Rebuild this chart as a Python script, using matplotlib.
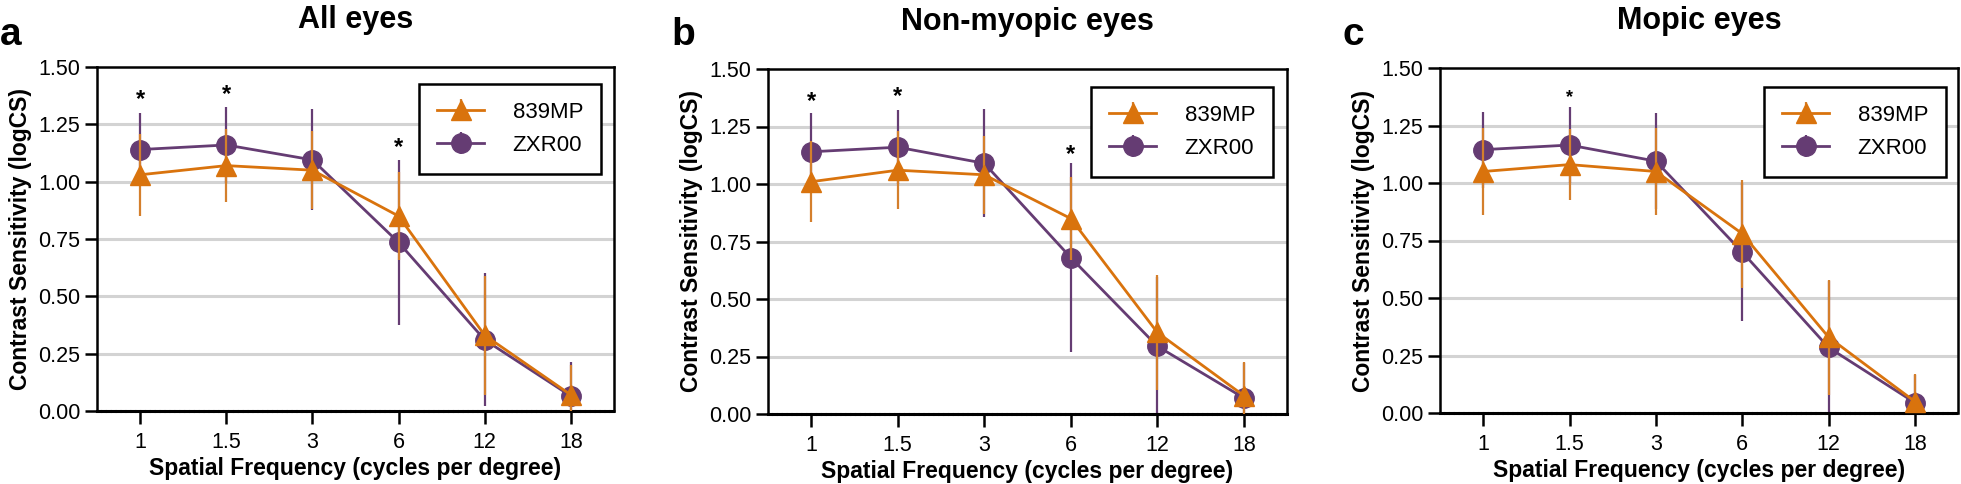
import numpy as np
import matplotlib
matplotlib.use('Agg')
import matplotlib.pyplot as plt

plt.rcParams['font.family'] = ['Liberation Sans', 'DejaVu Sans']

freq_labels = ['1', '1.5', '3', '6', '12', '18']
titles = ['All eyes', 'Non-myopic eyes', 'Mopic eyes']
letters = ['a', 'b', 'c']

# 839MP (orange, triangles)
mp_mean = [
    [1.03, 1.07, 1.05, 0.85, 0.33, 0.07],
    [1.01, 1.06, 1.04, 0.85, 0.355, 0.08],
    [1.05, 1.08, 1.05, 0.78, 0.33, 0.05],
]
mp_sd = [
    [0.18, 0.16, 0.17, 0.19, 0.26, 0.13],
    [0.175, 0.17, 0.17, 0.18, 0.25, 0.145],
    [0.19, 0.155, 0.19, 0.235, 0.25, 0.12],
]
# ZXR00 (purple, circles)
zx_mean = [
    [1.14, 1.16, 1.095, 0.735, 0.31, 0.065],
    [1.14, 1.16, 1.09, 0.68, 0.295, 0.07],
    [1.145, 1.165, 1.095, 0.70, 0.285, 0.045],
]
zx_sd = [
    [0.16, 0.165, 0.22, 0.36, 0.29, 0.15],
    [0.17, 0.16, 0.235, 0.41, 0.30, 0.15],
    [0.165, 0.165, 0.21, 0.30, 0.29, 0.12],
]
# significance stars: (index, y)
stars = [
    [(0, 1.36), (1, 1.38), (3, 1.15)],
    [(0, 1.36), (1, 1.38), (3, 1.13)],
    [(1, 1.37)],
]
star_size = [17, 17, 13]

orange = '#d9730d'
orange_err = '#d47f2c'
purple = '#653c73'

W, H = 1961, 484
fig = plt.figure(figsize=(W / 100, H / 100), dpi=100)

# axes boxes in pixels: left, top, right, bottom
boxes = [(97, 67, 614, 411), (768, 69, 1287, 414), (1440, 68, 1958, 413)]
# legend upper-right corners in pixels
leg_corner = [(601, 84), (1273, 87), (1946, 87)]

x = np.arange(len(freq_labels))
for k in range(3):
    l, t, r, b = boxes[k]
    ax = fig.add_axes([l / W, 1 - b / H, (r - l) / W, (b - t) / H])

    for yy in [0.25, 0.5, 0.75, 1.0, 1.25]:
        ax.axhline(yy, color='#d3d3d3', lw=2.2, zorder=0)

    ax.errorbar(x, zx_mean[k], yerr=zx_sd[k], color=purple, ecolor=purple,
                elinewidth=1.6, capsize=0, lw=2, marker='o', ms=14,
                label='ZXR00', zorder=2)
    ax.errorbar(x, mp_mean[k], yerr=mp_sd[k], color=orange, ecolor=orange_err,
                elinewidth=1.6, capsize=0, lw=2, marker='^', ms=15,
                label='839MP', zorder=3)

    for i, yy in stars[k]:
        ax.text(x[i], yy, '*', ha='center', va='center',
                fontsize=star_size[k], fontweight='bold')

    ax.set_xlim(-0.5, 5.5)
    ax.set_ylim(0, 1.5)
    ax.set_xticks(x)
    ax.set_xticklabels(freq_labels)
    ax.set_yticks([0, 0.25, 0.5, 0.75, 1.0, 1.25, 1.5])
    ax.set_yticklabels(['0.00', '0.25', '0.50', '0.75', '1.00', '1.25', '1.50'])
    ax.tick_params(direction='out', length=9, width=1.8, labelsize=15.5,
                   pad=3)
    ax.tick_params(axis='x', pad=6)
    for s in ['left', 'top', 'right']:
        ax.spines[s].set_linewidth(1.8)
    ax.spines['bottom'].set_linewidth(2.2)
    ax.spines['bottom'].set_linestyle((0, (1, 0.6)))

    ax.set_xlabel('Spatial Frequency (cycles per degree)', fontsize=16.5,
                  fontweight='bold', labelpad=3)
    ax.set_ylabel('Contrast Sensitivity (logCS)', fontsize=16.5,
                  fontweight='bold', labelpad=4)
    ax.set_title(titles[k], fontsize=22, fontweight='bold', pad=28)

    h, lb = ax.get_legend_handles_labels()
    cx, cy = leg_corner[k]
    leg = ax.legend(h[::-1], lb[::-1], loc='upper right',
                    bbox_to_anchor=(cx / W, 1 - cy / H),
                    bbox_transform=fig.transFigure,
                    fontsize=16, frameon=True, fancybox=False, framealpha=1,
                    edgecolor='black', handlelength=2.1, handletextpad=1.3,
                    borderpad=0.8, labelspacing=0.55, borderaxespad=0)
    leg.get_frame().set_linewidth(1.8)

    fig.text((l - 97) / W, 1 - 35 / H, letters[k], fontsize=28,
             fontweight='bold', ha='left', va='center')

fig.savefig('out.png', dpi=100)
